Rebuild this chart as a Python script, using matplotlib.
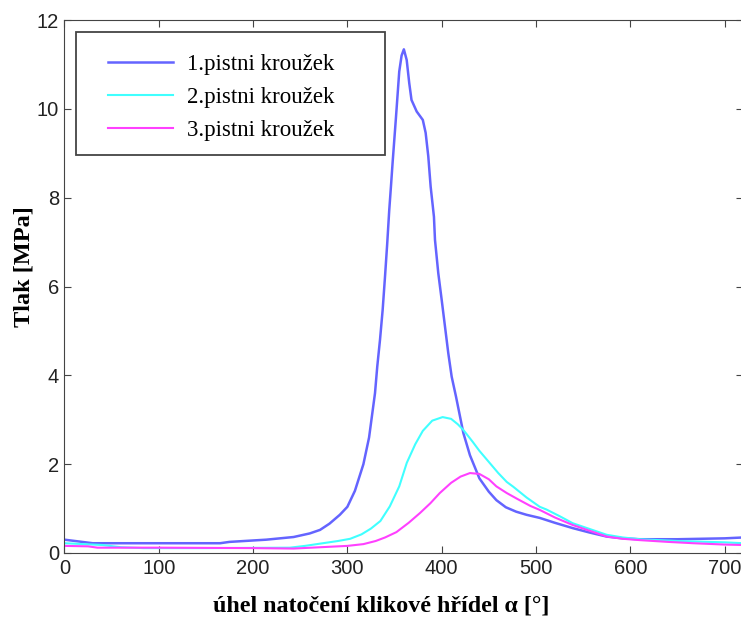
import numpy as np
import matplotlib.pyplot as plt
from matplotlib.patches import Rectangle

# crank angle [deg] and pressure [MPa]
ang1 = [0, 15, 30, 100, 165, 175, 214, 243, 260, 271, 281, 292, 300, 308, 317, 323,
        329.3, 331.7, 334.6, 337.4, 339.9, 342.2, 344.4, 346.2, 348, 351.5, 355, 357.5, 359.9,
        362.9, 365.6, 368, 373.5, 380, 383, 385.8, 388.3, 391.8, 392.9, 396.4, 400,
        403.5, 407, 410.6, 415.2, 423, 430, 440, 450, 458, 468, 479, 490, 504, 520,
        539, 557, 575, 592, 610, 650, 700, 720]
p1 = [0.30, 0.26, 0.22, 0.22, 0.22, 0.25, 0.30, 0.36, 0.44, 0.52, 0.66, 0.86, 1.04, 1.4, 2.0, 2.6,
      3.6, 4.2, 4.8, 5.47, 6.22, 6.95, 7.72, 8.25, 8.8, 9.8, 10.84, 11.2, 11.34,
      11.1, 10.58, 10.2, 9.94, 9.75, 9.46, 8.93, 8.25, 7.57, 7.05, 6.3, 5.7,
      5.1, 4.5, 3.97, 3.52, 2.7, 2.2, 1.68, 1.38, 1.19, 1.03, 0.93, 0.86, 0.79, 0.68,
      0.56, 0.46, 0.37, 0.33, 0.31, 0.31, 0.33, 0.35]

ang2 = [0, 20, 40, 60, 84, 150, 239, 255, 274, 290, 303, 315, 325, 335, 345, 355, 363,
        372, 380, 390, 401, 410, 417, 423, 433, 440, 450, 460, 469, 476, 490, 504, 511,
        525, 539, 557, 575, 592, 610, 650, 700, 720]
p2 = [0.22, 0.20, 0.18, 0.13, 0.11, 0.11, 0.12, 0.16, 0.22, 0.27, 0.32, 0.42, 0.55, 0.72, 1.05, 1.5, 2.03,
      2.45, 2.75, 2.98, 3.06, 3.02, 2.9, 2.77, 2.5, 2.3, 2.05, 1.8, 1.6, 1.49, 1.25, 1.04, 0.98,
      0.83, 0.67, 0.54, 0.41, 0.35, 0.31, 0.27, 0.24, 0.22]

ang3 = [0, 25, 35, 100, 200, 243, 281, 300, 317, 330, 340, 352, 365, 377, 388, 398, 410,
        420, 430, 440, 450, 458, 469, 480, 494, 504, 520, 539, 557, 575, 592, 610, 640,
        667, 700, 720]
p3 = [0.16, 0.15, 0.12, 0.12, 0.11, 0.10, 0.14, 0.16, 0.20, 0.27, 0.35, 0.47, 0.68, 0.90, 1.12, 1.35, 1.58,
      1.72, 1.80, 1.78, 1.66, 1.50, 1.35, 1.22, 1.06, 0.97, 0.80, 0.63, 0.50, 0.37, 0.32, 0.29, 0.25,
      0.22, 0.19, 0.18]

labels = ['1.pistni kroužek', '2.pistni kroužek', '3.pistni kroužek']
colors = ['#6464ff', '#40ffff', '#ff40ff']

fig = plt.figure(figsize=(7.41, 6.25), dpi=100)
ax = fig.add_axes([0.087, 0.1152, 0.9163, 0.8528])

ax.plot(ang1, p1, color=colors[0], lw=1.8, label=labels[0])
ax.plot(ang2, p2, color=colors[1], lw=1.5, label=labels[1])
ax.plot(ang3, p3, color=colors[2], lw=1.5, label=labels[2])

ax.set_xlim(0, 720)
ax.set_ylim(0, 12)
ax.set_xticks(np.arange(0, 701, 100))
ax.set_yticks(np.arange(0, 13, 2))

for lab in ax.get_xticklabels() + ax.get_yticklabels():
    lab.set_family(['Liberation Sans', 'DejaVu Sans'])
    lab.set_fontsize(14.5)
    lab.set_color('#222222')
ax.tick_params(direction='in', length=5, top=True, right=True, color='#444444', pad=4)
for s in ax.spines.values():
    s.set_color('#444444')

ax.set_xlabel('úhel natočení klikové hřídel α [°]', family='Liberation Serif',
              fontweight='bold', fontsize=17.3)
ax.xaxis.set_label_coords(0.466, -0.08)
ax.set_ylabel('Tlak [MPa]', family='Liberation Serif', fontweight='bold',
              fontsize=17.5)
ax.yaxis.set_label_coords(-0.044, 0.537)

# legend entries without frame, box drawn separately (it is wider than the text)
leg = ax.legend(loc='upper left', bbox_to_anchor=(0.064, 0.936),
                prop={'family': 'Liberation Serif', 'size': 16.5},
                frameon=False, handlelength=2.85, handletextpad=0.58,
                labelspacing=0.52, borderpad=0, borderaxespad=0)
ax.add_patch(Rectangle((0.017, 0.7467), 0.455, 0.2308, transform=ax.transAxes,
                       facecolor='none', edgecolor='#444444', lw=1.3, zorder=5))

fig.savefig('out.png', dpi=100)
